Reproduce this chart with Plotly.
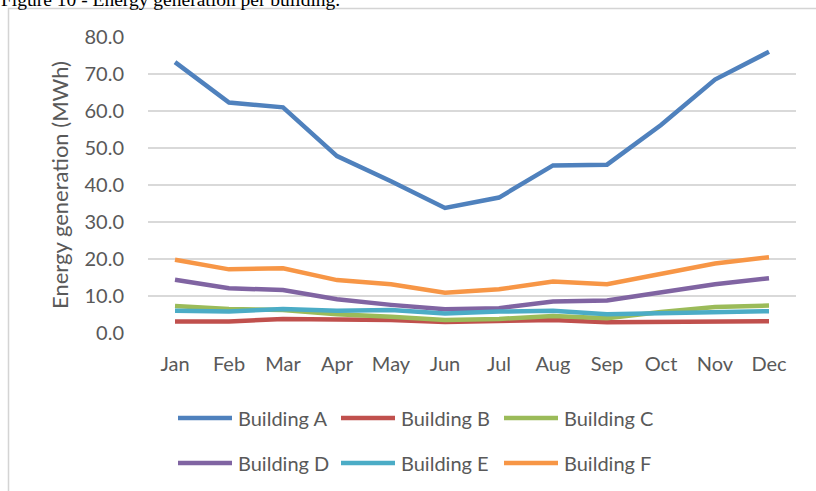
import plotly.graph_objects as go

# Monthly energy generation (MWh) per building
months = ["Jan", "Feb", "Mar", "Apr", "May", "Jun",
          "Jul", "Aug", "Sep", "Oct", "Nov", "Dec"]

building_a = [73.2, 62.3, 61.0, 47.8, 41.0, 33.8, 36.6, 45.3, 45.5, 56.2, 68.5, 76.0]
building_b = [3.1, 3.1, 3.8, 3.7, 3.5, 3.0, 3.2, 3.5, 2.9, 3.0, 3.1, 3.2]
building_c = [7.3, 6.5, 6.2, 5.1, 4.4, 3.5, 3.8, 4.6, 4.0, 5.7, 7.0, 7.4]
building_d = [14.4, 12.1, 11.6, 9.1, 7.6, 6.4, 6.7, 8.5, 8.8, 10.9, 13.2, 14.8]
building_e = [6.0, 5.8, 6.5, 6.0, 6.2, 5.3, 5.8, 6.0, 5.1, 5.4, 5.7, 5.9]
building_f = [19.8, 17.2, 17.5, 14.3, 13.2, 10.9, 11.8, 13.9, 13.2, 16.1, 18.8, 20.5]

names = ["Building A", "Building B", "Building C",
         "Building D", "Building E", "Building F"]
series = [building_a, building_b, building_c, building_d, building_e, building_f]
colors = ["#4F81BD", "#C0504D", "#9BBB59", "#8064A2", "#4BACC6", "#F79646"]

W, H = 816, 491
L, R, T, B = 148, 20, 37, 158
PW, PH = W - L - R, H - T - B
FONT = "Lato"
TXT = "#595959"
FS = 20


def px_x(x):
    return (x - L) / PW


def px_y(y):
    return (H - B - y) / PH


fig = go.Figure()
for name, vals, col in zip(names, series, colors):
    fig.add_trace(go.Scatter(
        x=months, y=vals, name=name, mode="lines",
        line=dict(color=col, width=4.5),
        showlegend=False,
    ))

shapes = []
annotations = []

# Legend: three entries per row, two rows
for i, (name, col) in enumerate(zip(names, colors)):
    row, c = divmod(i, 3)
    x0 = 178 + c * 163
    x1 = x0 + 54
    yy = 418 + row * 45
    shapes.append(dict(type="line", xref="paper", yref="paper",
                       x0=px_x(x0), x1=px_x(x1), y0=px_y(yy), y1=px_y(yy),
                       line=dict(color=col, width=4.5)))
    annotations.append(dict(xref="paper", yref="paper", x=px_x(x1 + 4), y=px_y(yy),
                            xanchor="left", yanchor="middle", showarrow=False,
                            text=name, font=dict(family=FONT, size=FS, color=TXT)))

# Chart frame (top and left edges)
shapes.append(dict(type="line", xref="paper", yref="paper",
                   x0=px_x(8), x1=px_x(W + 2), y0=px_y(8.5), y1=px_y(8.5),
                   line=dict(color="#d4d4d4", width=1.5)))
shapes.append(dict(type="line", xref="paper", yref="paper",
                   x0=px_x(8.5), x1=px_x(8.5), y0=px_y(8), y1=px_y(H + 2),
                   line=dict(color="#d4d4d4", width=1.5)))

# Caption above the chart frame
annotations.append(dict(xref="paper", yref="paper", x=px_x(-1), y=px_y(-1),
                        xanchor="left", yanchor="middle", showarrow=False,
                        text="Figure 10 - Energy generation per building.",
                        font=dict(family="Liberation Serif", size=19.5, color="#000000")))

fig.update_layout(
    width=W, height=H,
    margin=dict(l=L, r=R, t=T, b=B),
    paper_bgcolor="white", plot_bgcolor="white",
    font=dict(family=FONT, size=FS, color=TXT),
    shapes=shapes, annotations=annotations,
    xaxis=dict(range=[-0.5, 11.5], showgrid=False, showline=False, zeroline=False,
               ticks="", ticklabelstandoff=17, tickfont=dict(size=FS, color=TXT)),
    yaxis=dict(range=[0, 80], dtick=10, tickformat=".1f",
               showgrid=True, gridcolor="#d9d9d9", gridwidth=1.5,
               zeroline=False, showline=False, ticks="",
               ticklabelstandoff=23, tickfont=dict(size=FS, color=TXT),
               title=dict(text="Energy generation (MWh)", standoff=9,
                          font=dict(size=22, color=TXT))),
)

fig.write_html("out.html")
